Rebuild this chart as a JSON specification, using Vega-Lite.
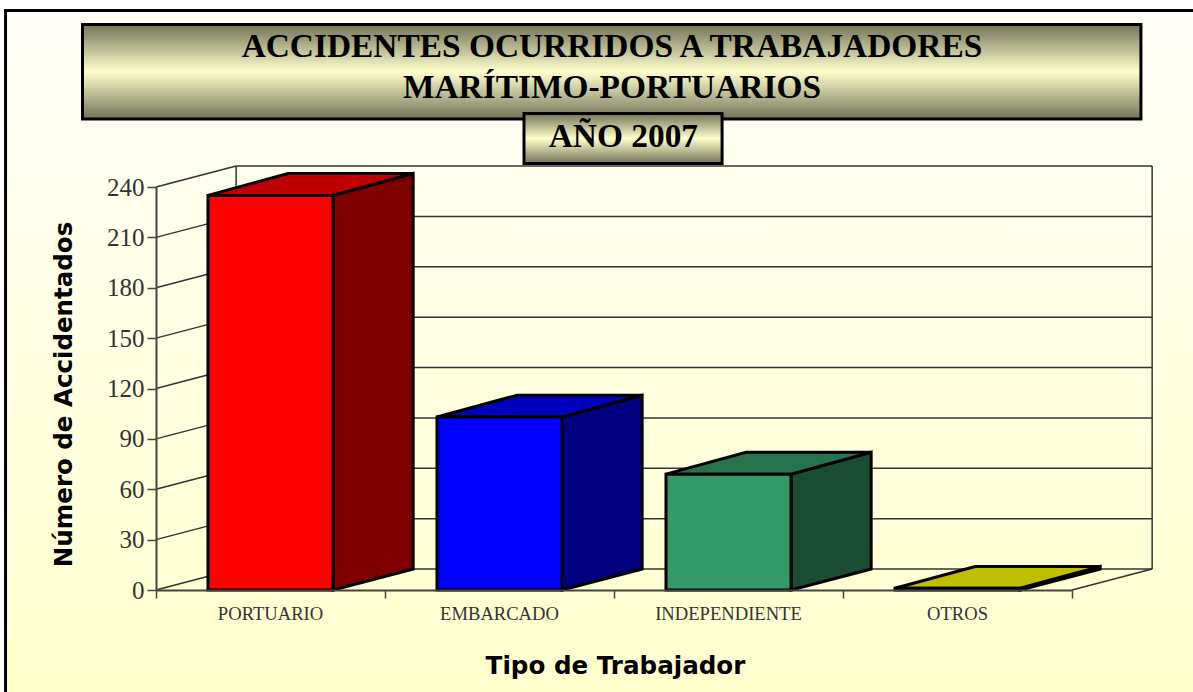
{
"$schema":"https://vega.github.io/schema/vega-lite/v6.json",
"width":916,"height":403,
"autosize":{"type":"none"},
"padding":{"left":156,"top":187,"right":121,"bottom":102},
"background":"#ffffff",
"datasets":{
"marco":[{"x":-0.657,"x2":4.56,"y":345.1,"y2":-66}],
"pared":[
{"x":0,"x2":0.35,"y":0,"y2":12.5},{"x":0,"x2":0.35,"y":30,"y2":42.5},{"x":0,"x2":0.35,"y":60,"y2":72.5},{"x":0,"x2":0.35,"y":90,"y2":102.5},{"x":0,"x2":0.35,"y":120,"y2":132.5},{"x":0,"x2":0.35,"y":150,"y2":162.5},{"x":0,"x2":0.35,"y":180,"y2":192.5},{"x":0,"x2":0.35,"y":210,"y2":222.5},{"x":0,"x2":0.35,"y":240,"y2":252.5},
{"x":0.35,"x2":4.35,"y":12.5,"y2":12.5},{"x":0.35,"x2":4.35,"y":42.5,"y2":42.5},{"x":0.35,"x2":4.35,"y":72.5,"y2":72.5},{"x":0.35,"x2":4.35,"y":102.5,"y2":102.5},{"x":0.35,"x2":4.35,"y":132.5,"y2":132.5},{"x":0.35,"x2":4.35,"y":162.5,"y2":162.5},{"x":0.35,"x2":4.35,"y":192.5,"y2":192.5},{"x":0.35,"x2":4.35,"y":222.5,"y2":222.5},{"x":0.35,"x2":4.35,"y":252.5,"y2":252.5},
{"x":0.35,"x2":0.35,"y":12.5,"y2":252.5},{"x":4.35,"x2":4.35,"y":12.5,"y2":252.5},{"x":4,"x2":4.35,"y":0,"y2":12.5}],
"caras":[
{"cara":"PORTUARIO lado","x":0.773,"y":0,"y2":235},{"cara":"PORTUARIO lado","x":1.123,"y":12.5,"y2":248},
{"cara":"PORTUARIO arriba","x":0.227,"y":235,"y2":235},{"cara":"PORTUARIO arriba","x":0.577,"y":235,"y2":248},{"cara":"PORTUARIO arriba","x":0.773,"y":235,"y2":248},{"cara":"PORTUARIO arriba","x":1.123,"y":248,"y2":248},
{"cara":"EMBARCADO lado","x":1.773,"y":0,"y2":103},{"cara":"EMBARCADO lado","x":2.123,"y":12.5,"y2":116},
{"cara":"EMBARCADO arriba","x":1.227,"y":103,"y2":103},{"cara":"EMBARCADO arriba","x":1.577,"y":103,"y2":116},{"cara":"EMBARCADO arriba","x":1.773,"y":103,"y2":116},{"cara":"EMBARCADO arriba","x":2.123,"y":116,"y2":116},
{"cara":"INDEPENDIENTE lado","x":2.773,"y":0,"y2":69},{"cara":"INDEPENDIENTE lado","x":3.123,"y":12.5,"y2":82},
{"cara":"INDEPENDIENTE arriba","x":2.227,"y":69,"y2":69},{"cara":"INDEPENDIENTE arriba","x":2.577,"y":69,"y2":82},{"cara":"INDEPENDIENTE arriba","x":2.773,"y":69,"y2":82},{"cara":"INDEPENDIENTE arriba","x":3.123,"y":82,"y2":82},
{"cara":"OTROS lado","x":3.773,"y":0,"y2":1},{"cara":"OTROS lado","x":4.123,"y":12.5,"y2":14},
{"cara":"OTROS arriba","x":3.227,"y":1,"y2":1},{"cara":"OTROS arriba","x":3.577,"y":1,"y2":14},{"cara":"OTROS arriba","x":3.773,"y":1,"y2":14},{"cara":"OTROS arriba","x":4.123,"y":14,"y2":14}],
"barras":[
{"tipo":"PORTUARIO","cara":"PORTUARIO frente","accidentados":235},
{"tipo":"EMBARCADO","cara":"EMBARCADO frente","accidentados":103},
{"tipo":"INDEPENDIENTE","cara":"INDEPENDIENTE frente","accidentados":69},
{"tipo":"OTROS","cara":"OTROS frente","accidentados":1}],
"caja1":[{"x":-0.321,"x2":4.301,"y":336.8,"y2":280.5}],
"caja2":[{"x":1.607,"x2":2.472,"y":283.8,"y2":254.0}],
"titulos":[
{"texto":"ACCIDENTES OCURRIDOS A TRABAJADORES","x":1.991,"y":317.4},
{"texto":"MARÍTIMO-PORTUARIOS","x":1.991,"y":293.0},
{"texto":"AÑO 2007","x":2.041,"y":263.8}]
},
"layer":[
{"data":{"name":"marco"},
 "mark":{"type":"rect","stroke":"#000000","strokeWidth":3,"fill":{"gradient":"linear","x1":0,"y1":0,"x2":0,"y2":1,"stops":[{"offset":0,"color":"#fffff8"},{"offset":1,"color":"#ffffcc"}]}},
 "encoding":{
  "x":{"field":"x","type":"quantitative","scale":{"domain":[0,4]},"axis":null},
  "x2":{"field":"x2"},
  "y":{"field":"y","type":"quantitative","scale":{"domain":[0,240],"nice":false},
   "axis":{"orient":"left","title":"Número de Accidentados","values":[0,30,60,90,120,150,180,210,240],"zindex":1,"grid":false,
    "labelFont":"Liberation Serif","labelFontSize":25,"labelColor":"#333333","labelPadding":3,
    "domainColor":"#444444","domainWidth":2,"tickColor":"#444444","tickWidth":1.5,"tickSize":9,
    "titleFont":"DejaVu Sans","titleFontWeight":"bold","titleFontSize":24.5,"titleColor":"#000000","titleX":-85,"titleY":207,"titleBaseline":"alphabetic"}},
  "y2":{"field":"y2"}}},
{"data":{"name":"pared"},
 "mark":{"type":"rule","stroke":"#333333","strokeWidth":1.5},
 "encoding":{
  "x":{"field":"x","type":"quantitative","scale":{"domain":[0,4]},
   "axis":{"orient":"bottom","title":null,"values":[0,1,2,3,4],"labels":false,"grid":false,"zindex":1,
    "domainColor":"#444444","domainWidth":2,"tickColor":"#444444","tickWidth":1.5,"tickSize":8}},
  "x2":{"field":"x2"},
  "y":{"field":"y","type":"quantitative","axis":null},
  "y2":{"field":"y2"}}},
{"data":{"name":"caras"},
 "mark":{"type":"area","stroke":"#000000","strokeWidth":3,"strokeJoin":"miter","interpolate":"linear"},
 "encoding":{
  "x":{"field":"x","type":"quantitative","scale":{"domain":[0,4]},"axis":null},
  "y":{"field":"y","type":"quantitative","axis":null},
  "y2":{"field":"y2"},
  "color":{"field":"cara","type":"nominal","legend":null,"scale":{
   "domain":["PORTUARIO frente","PORTUARIO lado","PORTUARIO arriba","EMBARCADO frente","EMBARCADO lado","EMBARCADO arriba","INDEPENDIENTE frente","INDEPENDIENTE lado","INDEPENDIENTE arriba","OTROS frente","OTROS lado","OTROS arriba"],
   "range":["#ff0000","#800000","#bf0000","#0000ff","#000080","#0000bf","#339966","#1a4d33","#26734d","#ffff00","#808000","#bfbf00"]}}}},
{"data":{"name":"barras"},
 "mark":{"type":"bar","stroke":"#000000","strokeWidth":3},
 "encoding":{
  "x":{"field":"tipo","type":"nominal","sort":null,
   "scale":{"type":"band","domain":["PORTUARIO","EMBARCADO","INDEPENDIENTE","OTROS"],"paddingInner":0.454,"paddingOuter":0.227},
   "axis":{"orient":"bottom","title":"Tipo de Trabajador","labelAngle":0,"ticks":false,"domain":false,"zindex":1,
    "labelFont":"Liberation Serif","labelFontSize":18.6,"labelColor":"#333333","labelPadding":14,
    "titleFont":"DejaVu Sans","titleFontWeight":"bold","titleFontSize":24.6,"titleColor":"#000000","titleX":459,"titleY":83,"titleBaseline":"alphabetic"}},
  "y":{"field":"accidentados","type":"quantitative","axis":null},
  "color":{"field":"cara","type":"nominal","legend":null}}},
{"data":{"name":"caja1"},
 "mark":{"type":"rect","stroke":"#000000","strokeWidth":3,"fill":{"gradient":"linear","x1":0,"y1":0,"x2":0,"y2":1,"stops":[{"offset":0,"color":"#737359"},{"offset":0.5,"color":"#ffffcc"},{"offset":1,"color":"#737359"}]}},
 "encoding":{
  "x":{"field":"x","type":"quantitative","scale":{"domain":[0,4]},"axis":null},
  "x2":{"field":"x2"},
  "y":{"field":"y","type":"quantitative","axis":null},
  "y2":{"field":"y2"}}},
{"data":{"name":"caja2"},
 "mark":{"type":"rect","stroke":"#000000","strokeWidth":3,"fill":{"gradient":"linear","x1":0,"y1":0,"x2":0,"y2":1,"stops":[{"offset":0,"color":"#737359"},{"offset":0.5,"color":"#ffffcc"},{"offset":1,"color":"#737359"}]}},
 "encoding":{
  "x":{"field":"x","type":"quantitative","scale":{"domain":[0,4]},"axis":null},
  "x2":{"field":"x2"},
  "y":{"field":"y","type":"quantitative","axis":null},
  "y2":{"field":"y2"}}},
{"data":{"name":"titulos"},
 "mark":{"type":"text","font":"Liberation Serif","fontWeight":"bold","fontSize":33.4,"color":"#000000","align":"center","baseline":"alphabetic"},
 "encoding":{
  "x":{"field":"x","type":"quantitative","scale":{"domain":[0,4]},"axis":null},
  "y":{"field":"y","type":"quantitative","axis":null},
  "text":{"field":"texto"}}}
],
"resolve":{"scale":{"x":"independent"},"axis":{"x":"independent","y":"independent"}}
}
